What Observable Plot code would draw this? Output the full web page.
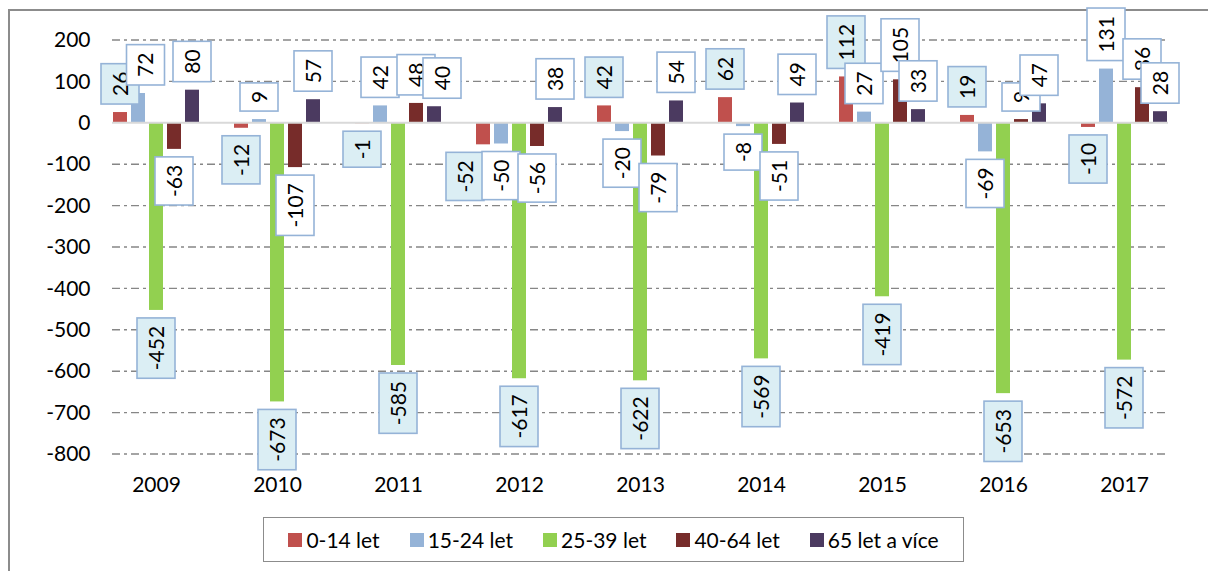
<!DOCTYPE html>
<html><head><meta charset="utf-8">
<script src="https://cdn.jsdelivr.net/npm/d3@7"></script>
<script src="https://cdn.jsdelivr.net/npm/@observablehq/plot@0.6"></script>
<style>
html,body{margin:0;padding:0;background:#fff;overflow:hidden;width:1208px;height:571px}
#frame{position:absolute;left:8px;top:9px;width:1400px;height:800px;border:2px solid #8c8c8c;box-sizing:border-box}
#chart{position:absolute;left:0;top:0}
#legend{position:absolute;left:263px;top:517px;width:701px;height:45px;border:1.5px solid #8c8c8c;box-sizing:border-box;display:flex;align-items:center;justify-content:center;gap:30px;font-family:Lato,sans-serif;font-size:21px;color:#000;background:#fff}
.item{display:flex;align-items:center;gap:4px}
.sw{width:14px;height:14px;display:inline-block}
</style></head>
<body><div id="frame"></div><div id="chart"></div><div id="legend"></div>
<script>
const years = ["2009","2010","2011","2012","2013","2014","2015","2016","2017"];
const groups = ["0-14 let","15-24 let","25-39 let","40-64 let","65 let a více"];
const colors = ["#C0504D","#95B3D7","#92D050","#772C2A","#4B3A60"];
const labelFills = ["#DBEEF4","#FFFFFF","#DBEEF4","#FFFFFF","#FFFFFF"];
const v0_14  = [26, -12, -1, -52, 42, 62, 112, 19, -10];
const v15_24 = [72, 9, 42, -50, -20, -8, 27, -69, 131];
const v25_39 = [-452, -673, -585, -617, -622, -569, -419, -653, -572];
const v40_64 = [-63, -107, 48, -56, -79, -51, 105, 9, 86];
const v65    = [80, 57, 40, 38, 54, 49, 33, 47, 28];
const yTicks = [-800,-700,-600,-500,-400,-300,-200,-100,0,100,200];
// labels that the source chart nudged sideways to reduce overlap (pixel dx)
const labelNudges = [["2009", "15-24 let", 7.5], ["2011", "65 let a více", 8], ["2012", "0-14 let", -18]];

const series = [v0_14, v15_24, v25_39, v40_64, v65];
const data = [];
series.forEach((vals, s) => vals.forEach((v, i) => data.push({year: years[i], group: groups[s], s, value: v})));
const nudgeOf = (d) => { const n = labelNudges.find(([y, g]) => y === d.year && g === d.group); return n ? n[2] : 0; };

const labelFont = "21px Lato";
const cctx = document.createElement("canvas").getContext("2d");
cctx.font = labelFont;

function renderLabels(index, scales, values) {
  const g = d3.create("svg:g").attr("font-family", "Lato, sans-serif").attr("font-size", 21);
  const bw = scales.x.bandwidth();
  for (const i of index) {
    const d = data[i];
    const txt = String(d.value);
    const tw = cctx.measureText(txt).width;
    const h = tw + 16, w = 38;
    const cx = values.x[i] + bw / 2 + nudgeOf(d);
    const yv = values.y1[i];
    const cy = d.value >= 0 ? yv - 8 - h / 2 : yv + 8 + h / 2;
    g.append("rect")
      .attr("x", cx - w / 2).attr("y", cy - h / 2)
      .attr("width", w).attr("height", h)
      .attr("fill", labelFills[d.s]).attr("stroke", "#95B3D7").attr("stroke-width", 1.6);
    g.append("text")
      .attr("transform", `translate(${cx},${cy}) rotate(-90)`)
      .attr("text-anchor", "middle").attr("y", "0.36em").attr("fill", "#000")
      .text(txt);
  }
  return g.node();
}

function gridRender(ticks, style) {
  return (index, scales, values, dims) => {
    const g = d3.create("svg:g");
    for (const i of index) {
      const yy = scales.y(ticks[i]);
      g.append("line")
        .attr("x1", dims.marginLeft).attr("x2", dims.width - dims.marginRight)
        .attr("y1", yy).attr("y2", yy)
        .attr("stroke", style.stroke).attr("stroke-width", style.width)
        .attr("stroke-dasharray", style.dash || null);
    }
    return g.node();
  };
}
const gridTicks = yTicks.filter(d => d !== 0);
const zeroTick = [0];

const chart = Plot.plot({
  width: 1208,
  height: 500,
  marginTop: 40,
  marginBottom: 46,
  marginLeft: 92,
  marginRight: 20,
  style: {fontFamily: "Lato, sans-serif", fontSize: "21px", color: "#000", background: "transparent", overflow: "visible"},
  fx: {domain: years, paddingInner: 0.274, paddingOuter: 0.137, axis: "bottom", tickSize: 0, tickPadding: 23, label: null},
  x: {domain: groups, paddingInner: 0.22, paddingOuter: 0, axis: null},
  y: {domain: [-800, 200], ticks: yTicks, tickSize: 0, tickPadding: 22, label: null, tickFormat: d => String(d)},
  color: {domain: groups, range: colors},
  marks: [
    Plot.text(gridTicks, {x: null, y: null, facet: "super", text: d => String(d), render: gridRender(gridTicks, {stroke: "#868686", width: 1.4, dash: "8,4,3,4"})}),
    Plot.barY(data, {fx: "year", x: "group", y: "value", fill: "group"}),
    Plot.text(zeroTick, {x: null, y: null, facet: "super", text: d => String(d), render: gridRender(zeroTick, {stroke: "#D9D9D9", width: 2})}),
    Plot.barY(data, {fx: "year", x: "group", y1: "value", y2: "value", render: renderLabels})
  ]
});
document.getElementById("chart").appendChild(chart);

const legend = d3.select("#legend");
groups.forEach((gname, k) => {
  const it = legend.append("div").attr("class", "item");
  it.append("span").attr("class", "sw").style("background", colors[k]);
  it.append("span").text(gname);
});
</script>
</body></html>
